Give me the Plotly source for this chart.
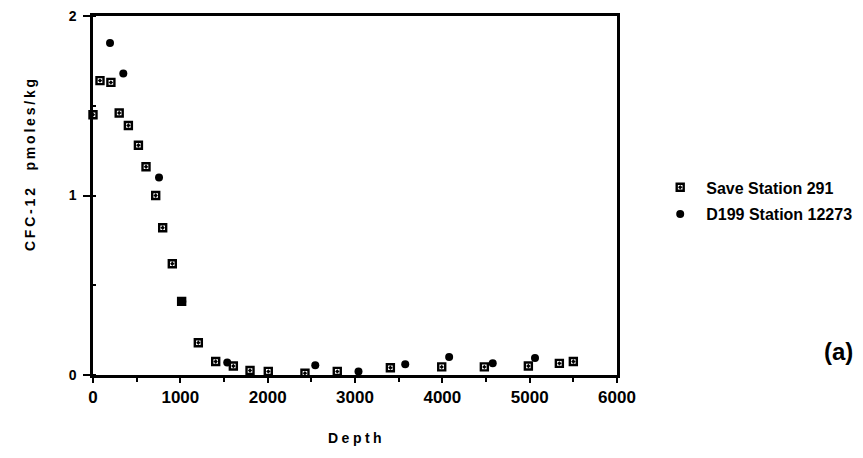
import plotly.graph_objects as go

save_depth = [0, 80, 205, 300, 405, 520, 607, 718, 798, 908, 1015, 1206, 1405, 1607, 1798, 2007, 2427, 2797, 3405, 3993, 4481, 4985, 5340, 5500]
save_cfc = [1.45, 1.64, 1.63, 1.46, 1.39, 1.28, 1.16, 1.00, 0.82, 0.62, 0.41, 0.18, 0.075, 0.05, 0.025, 0.02, 0.01, 0.02, 0.04, 0.045, 0.045, 0.05, 0.065, 0.075]

d199_depth = [195, 347, 756, 1022, 1537, 2545, 3040, 3575, 4078, 4577, 5061]
d199_cfc = [1.85, 1.68, 1.10, 0.41, 0.07, 0.055, 0.02, 0.06, 0.10, 0.065, 0.095]

x_ticks = [0, 1000, 2000, 3000, 4000, 5000, 6000]
y_ticks = [0, 1, 2]

FONT = "Liberation Sans"
SP = "\u2005"

fig = go.Figure()
fig.add_trace(go.Scatter(
    x=save_depth, y=save_cfc, mode="markers", name="<b>Save Station 291</b>",
    legendgroup="a",
    marker=dict(symbol="square-dot", size=7, color="white", line=dict(color="black", width=2.4)),
    cliponaxis=False,
))
fig.add_trace(go.Scatter(
    x=d199_depth, y=d199_cfc, mode="markers", name="<b>D199 Station 12273</b>",
    legendgroup="b",
    marker=dict(symbol="circle", size=8, color="black", line=dict(color="black", width=0)),
    cliponaxis=False,
))

fig.update_layout(
    width=863, height=458,
    margin=dict(l=93, r=246, t=16, b=83, autoexpand=False),
    paper_bgcolor="white", plot_bgcolor="white",
    font=dict(family=FONT, size=12, color="black"),
    showlegend=True,
    legend=dict(x=1.071, y=0.57, xanchor="left", yanchor="top",
                font=dict(family=FONT, size=16, color="black"),
                bgcolor="rgba(0,0,0,0)", itemwidth=42, tracegroupgap=3),
    xaxis=dict(range=[0, 6000], tickvals=x_ticks, ticktext=[f"<b>{v}</b>" for v in x_ticks],
               automargin=False,
               showgrid=False, zeroline=False, showline=True, linecolor="black", linewidth=2.5,
               mirror=True, ticks="outside", ticklen=5, tickwidth=2, tickcolor="black",
               minor=dict(dtick=500, ticks="outside", ticklen=4, tickwidth=2, tickcolor="black"),
               tickfont=dict(family=FONT, size=17)),
    yaxis=dict(range=[0, 2], tickvals=y_ticks, ticktext=[f"<b>{v}</b>" for v in y_ticks],
               automargin=False, ticklabelstandoff=4,
               showgrid=False, zeroline=False, showline=True, linecolor="black", linewidth=2.5,
               mirror=True, ticks="outside", ticklen=7, tickwidth=2, tickcolor="black",
               minor=dict(dtick=0.5, ticks="inside", ticklen=3, tickwidth=2, tickcolor="black"),
               tickfont=dict(family=FONT, size=14)),
    yaxis2=dict(range=[0, 2], overlaying="y", side="right", tickvals=[1], showticklabels=False,
                automargin=False,
                showgrid=False, zeroline=False, showline=False, ticks="outside", ticklen=5,
                tickwidth=2, tickcolor="black"),
)

fig.add_annotation(text="<b>" + SP.join("Depth") + "</b>", x=0.5, y=-0.175, xref="paper", yref="paper",
                   xanchor="center", yanchor="middle", showarrow=False,
                   font=dict(family=FONT, size=14))
ytitle = "\u2009".join("CFC-12") + SP * 5 + "\u2009".join("pmoles/kg")
fig.add_annotation(text="<b>" + ytitle + "</b>", x=-0.120, y=0.585, xref="paper", yref="paper",
                   xanchor="center", yanchor="middle", textangle=-90, showarrow=False,
                   font=dict(family=FONT, size=14))
fig.add_annotation(text="<b>(a)</b>", x=1.422, y=0.065, xref="paper", yref="paper",
                   xanchor="center", yanchor="middle", showarrow=False,
                   font=dict(family=FONT, size=24))

fig.write_html("out.html", config={"displayModeBar": False},
               post_script="document.body.style.margin='0';document.body.style.overflow='hidden';")
